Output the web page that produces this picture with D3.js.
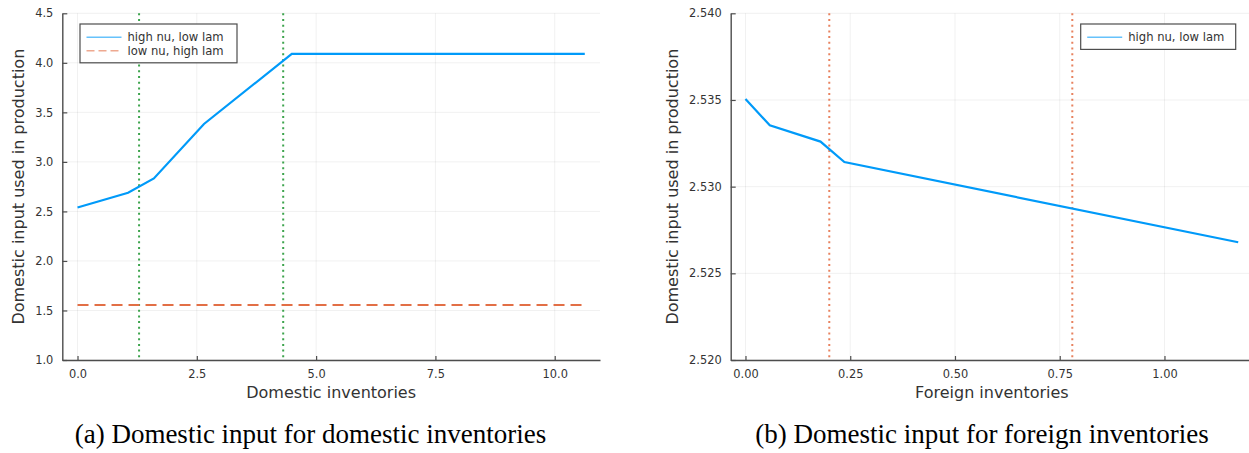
<!DOCTYPE html>
<meta charset="utf-8">
<script src="https://d3js.org/d3.v7.min.js"></script>
<style>
  body { margin: 0; background: #fff; }
  text { font-family: "DejaVu Sans", sans-serif; fill: #333; }
  .caption { font-family: "Liberation Serif", serif; fill: #000; }
</style>
<div id="my_dataviz"></div>
<script>

// panel (a): domestic inventories
var domInv        = [0, 1.06, 1.60, 2.65, 4.49, 10.63];
var domHighNu     = [2.540, 2.688, 2.833, 3.383, 4.090, 4.090];
var domLowNuX     = [0, 10.63];
var domLowNu      = [1.555, 1.555];
var domCutoffs    = [1.29, 4.31];
var domXTicks     = [0, 2.5, 5, 7.5, 10];
var domYTicks     = [1.0, 1.5, 2.0, 2.5, 3.0, 3.5, 4.0, 4.5];

// panel (b): foreign inventories
var forInv        = [0, 0.058, 0.179, 0.236, 1.176];
var forHighNu     = [2.53506, 2.53354, 2.53260, 2.53142, 2.52679];
var forCutoffs    = [0.20, 0.78];
var forXTicks     = [0, 0.25, 0.5, 0.75, 1.0];
var forYTicks     = [2.520, 2.525, 2.530, 2.535, 2.540];

var seriesNames   = ["high nu, low lam", "low nu, high lam"];
var captions      = ["(a) Domestic input for domestic inventories",
                     "(b) Domestic input for foreign inventories"];

var blue = "#009af9", orange = "#e26f46", green = "#3da44d";

var svg = d3.select("#my_dataviz")
  .append("svg")
    .attr("width", 1249)
    .attr("height", 453);

function zip(xs, ys) {
  return xs.map(function(x, i) { return {x: x, y: ys[i]}; });
}

function panel(opt) {
  var g = svg.append("g");

  // 3% padding on each side of the data extent, like the original plot
  var ext = opt.xExtent, pad = (ext[1] - ext[0]) * 0.03;
  var x = d3.scaleLinear()
    .domain([ext[0] - pad, ext[1] + pad])
    .range([opt.left, opt.right]);
  var y = d3.scaleLinear()
    .domain(opt.yDomain)
    .range([opt.bottom, opt.top]);

  // grid
  g.selectAll(".vgrid").data(opt.xTicks).enter().append("line")
    .attr("x1", function(d) { return x(d); }).attr("x2", function(d) { return x(d); })
    .attr("y1", opt.top).attr("y2", opt.bottom)
    .attr("stroke", "#000").attr("stroke-opacity", 0.1).attr("stroke-width", 0.6);
  g.selectAll(".hgrid").data(opt.yTicks).enter().append("line")
    .attr("x1", opt.left).attr("x2", opt.right)
    .attr("y1", function(d) { return y(d); }).attr("y2", function(d) { return y(d); })
    .attr("stroke", "#000").attr("stroke-opacity", 0.1).attr("stroke-width", 0.6);

  // axes, ticks pointing inward
  var xAxis = g.append("g")
    .attr("transform", "translate(0," + opt.bottom + ")")
    .call(d3.axisBottom(x).tickValues(opt.xTicks).tickFormat(d3.format(opt.xFmt))
      .tickSizeInner(-4).tickSizeOuter(0).tickPadding(8));
  var yAxis = g.append("g")
    .attr("transform", "translate(" + opt.left + ",0)")
    .call(d3.axisLeft(y).tickValues(opt.yTicks).tickFormat(d3.format(opt.yFmt))
      .tickSizeInner(-5).tickSizeOuter(0).tickPadding(9));
  [xAxis, yAxis].forEach(function(a) {
    a.select(".domain").attr("stroke", "#4d4d4d").attr("stroke-width", 1.4);
    a.selectAll(".tick line").attr("stroke", "#4d4d4d").attr("stroke-width", 1.2);
    a.selectAll(".tick text").style("font-size", "11.4px").attr("fill", "#333");
  });
  xAxis.selectAll(".tick text").attr("dy", "0.9em");

  // cutoff lines
  g.selectAll(".cut").data(opt.cutoffs).enter().append("line")
    .attr("x1", function(d) { return x(d); }).attr("x2", function(d) { return x(d); })
    .attr("y1", opt.top).attr("y2", opt.bottom)
    .attr("stroke", opt.cutColor).attr("stroke-width", 2)
    .attr("stroke-dasharray", "2 3.7");

  // series
  var line = d3.line().x(function(d) { return x(d.x); }).y(function(d) { return y(d.y); });
  opt.series.forEach(function(s) {
    g.append("path")
      .datum(s.data)
      .attr("fill", "none")
      .attr("stroke", s.color)
      .attr("stroke-width", 2.2)
      .attr("stroke-dasharray", s.dash || null)
      .attr("d", line);
  });

  // axis titles
  g.append("text")
    .attr("x", (opt.left + opt.right) / 2).attr("y", 398)
    .attr("text-anchor", "middle").style("font-size", "16px").attr("fill", "#000")
    .text(opt.xLabel);
  g.append("text")
    .attr("transform", "translate(" + opt.yLabelX + "," + ((opt.top + opt.bottom) / 2) + ") rotate(-90)")
    .attr("dy", "0.35em")
    .attr("text-anchor", "middle").style("font-size", "16px").attr("fill", "#000")
    .text(opt.yLabel);

  // legend
  var lg = g.append("g").attr("transform", "translate(" + opt.legend[0] + "," + opt.legend[1] + ")");
  var rows = opt.series.length;
  lg.append("rect")
    .attr("width", opt.legendWidth).attr("height", 13.4 * rows + 12)
    .attr("fill", "#fff").attr("stroke", "#4d4d4d").attr("stroke-width", 1.2);
  opt.series.forEach(function(s, i) {
    var ly = 13.3 + i * 13.4;
    lg.append("line")
      .attr("x1", 6.5).attr("x2", 41.5).attr("y1", ly).attr("y2", ly)
      .attr("stroke", s.color).attr("stroke-opacity", 0.6).attr("stroke-width", 1.4)
      .attr("stroke-dasharray", s.dash ? "8 4" : null);
    lg.append("text")
      .attr("x", 47.5).attr("y", ly).attr("dy", "0.35em")
      .style("font-size", "11.6px").attr("fill", "#222")
      .text(s.name);
  });

  // caption
  svg.append("text")
    .attr("class", "caption")
    .attr("x", opt.captionX).attr("y", 443)
    .attr("text-anchor", "middle").style("font-size", "27px")
    .text(opt.caption);
}

panel({
  left: 62.3, right: 600, top: 13.3, bottom: 360,
  xExtent: d3.extent(domInv), yDomain: [1.0, 4.5],
  xTicks: domXTicks, yTicks: domYTicks, xFmt: ".1f", yFmt: ".1f",
  cutoffs: domCutoffs, cutColor: green,
  series: [
    {name: seriesNames[0], color: blue, data: zip(domInv, domHighNu)},
    {name: seriesNames[1], color: orange, dash: "11 6", data: zip(domLowNuX, domLowNu)}
  ],
  xLabel: "Domestic inventories", yLabel: "Domestic input used in production",
  yLabelX: 18, legend: [80, 24], legendWidth: 157,
  caption: captions[0], captionX: 310.5
});

panel({
  left: 730.7, right: 1253, top: 13.3, bottom: 360,
  xExtent: d3.extent(forInv), yDomain: [2.520, 2.540],
  xTicks: forXTicks, yTicks: forYTicks, xFmt: ".2f", yFmt: ".3f",
  cutoffs: forCutoffs, cutColor: "#e8825f",
  series: [
    {name: seriesNames[0], color: blue, data: zip(forInv, forHighNu)}
  ],
  xLabel: "Foreign inventories", yLabel: "Domestic input used in production",
  yLabelX: 672, legend: [1080.7, 24], legendWidth: 155,
  caption: captions[1], captionX: 982
});

</script>
